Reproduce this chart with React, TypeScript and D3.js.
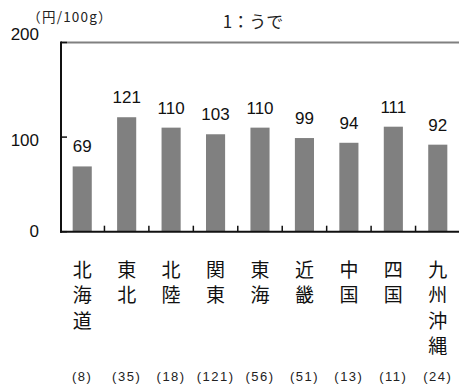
import React from "react";
import * as d3 from "d3";

// Regions and their average price (yen per 100g) for うで
const regions: string[] = ["北海道", "東北", "北陸", "関東", "東海", "近畿", "中国", "四国", "九州沖縄"];
const prices: number[] = [69, 121, 110, 103, 110, 99, 94, 111, 92];
const sampleCounts: number[] = [8, 35, 18, 121, 56, 51, 13, 11, 24];
const yTicks: number[] = [0, 100, 200];

const title = "1：うで";
const unitLabel = "（円/100g）";

const W = 459;
const H = 386;
const LATIN = "'Liberation Sans', Arial, 'Noto Sans CJK JP', sans-serif";
const CJK = "'Noto Sans CJK JP', 'Liberation Sans', sans-serif";

export default function App() {
  const left = 60;
  const right = 460;
  const top = 42.5;
  const bottom = 231.7;

  const x = d3.scaleBand<string>().domain(regions).range([left, right]).paddingInner(0.57).paddingOuter(0.285);
  const y = d3.scaleLinear().domain([0, 200]).range([bottom, top]);
  const step = x.step();
  const bw = x.bandwidth();

  const boundaries = d3.range(1, regions.length).map((i) => left + i * step);

  return (
    <svg
      width={W}
      height={H}
      viewBox={`0 0 ${W} ${H}`}
      style={{ position: "absolute", left: 0, top: 0, background: "#fff" }}
    >
      {/* title */}
      <text x={253} y={28} textAnchor="middle" fontFamily={CJK} fontSize={17} fill="#222">
        {title}
      </text>
      <text x={70} y={22} textAnchor="middle" fontFamily={CJK} fontSize={13.5} letterSpacing={1.2} fill="#222">
        {unitLabel}
      </text>

      {/* plot frame: gray top border, black value and category axes */}
      <line x1={61} x2={W} y1={top} y2={top} stroke="#808080" strokeWidth={2} />

      {/* bars */}
      {regions.map((r, i) => (
        <rect key={r} x={x(r)!} y={y(prices[i])} width={bw} height={bottom - y(prices[i])} fill="#808080" />
      ))}

      <line x1={61} x2={61} y1={top - 1} y2={bottom + 1} stroke="#111" strokeWidth={2} />
      <line x1={60} x2={W} y1={bottom} y2={bottom} stroke="#111" strokeWidth={2} />

      {/* value axis ticks and labels */}
      {yTicks.map((t, i) => (
        <g key={t}>
          <line x1={61} x2={67} y1={y(t)} y2={y(t)} stroke="#111" strokeWidth={1.5} />
          <text
            x={39}
            y={y(t) + (i === yTicks.length - 1 ? -8 : i === 0 ? 0 : 3)}
            dominantBaseline="central"
            textAnchor="end"
            fontFamily={LATIN}
            fontSize={17}
            fill="#111"
          >
            {t}
          </text>
        </g>
      ))}

      {/* category boundary ticks */}
      {boundaries.map((bx) => (
        <line key={bx} x1={bx} x2={bx} y1={bottom} y2={bottom - 6} stroke="#111" strokeWidth={1.5} />
      ))}

      {/* value labels */}
      {regions.map((r, i) => (
        <text
          key={r}
          x={x(r)! + bw / 2}
          y={y(prices[i]) - 14}
          textAnchor="middle"
          fontFamily={LATIN}
          fontSize={17}
          fill="#111"
        >
          {prices[i]}
        </text>
      ))}

      {/* vertical category names */}
      {regions.map((r) => (
        <text key={r} textAnchor="middle" fontFamily={CJK} fontSize={19} fill="#111">
          {Array.from(r).map((ch, j) => (
            <tspan key={j} x={x(r)! + bw / 2} y={268.3 + j * 25.5} dominantBaseline="central">
              {ch}
            </tspan>
          ))}
        </text>
      ))}

      {/* sample counts */}
      {regions.map((r, i) => (
        <text
          key={r}
          x={x(r)! + bw / 2}
          y={376}
          dominantBaseline="central"
          textAnchor="middle"
          fontFamily={LATIN}
          fontSize={13}
          letterSpacing={1.5}
          fill="#222"
        >
          {`(${sampleCounts[i]})`}
        </text>
      ))}
    </svg>
  );
}
